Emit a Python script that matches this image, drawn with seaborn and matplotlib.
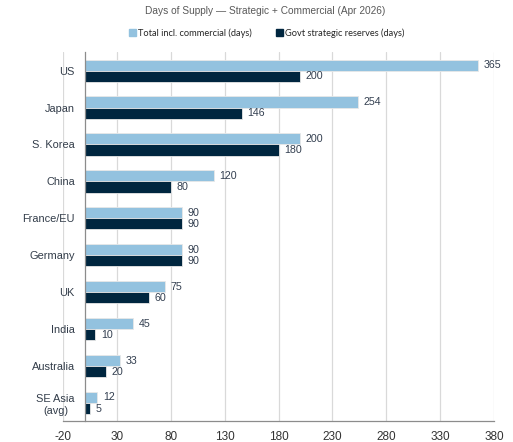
import matplotlib
matplotlib.use("Agg")
import matplotlib.pyplot as plt
import seaborn as sns
import pandas as pd
import numpy as np
from matplotlib.ticker import FixedLocator

countries = ["US", "Japan", "S. Korea", "China", "France/EU", "Germany", "UK", "India", "Australia", "SE Asia\n(avg)"]
total_days = [365, 254, 200, 120, 90, 90, 75, 45, 33, 12]
govt_days = [200, 146, 180, 80, 90, 90, 60, 10, 20, 5]
series_names = ["Total incl. commercial (days)", "Govt strategic reserves (days)"]
x_ticks = [-20, 30, 80, 130, 180, 230, 280, 330, 380]
title = "Days of Supply \u2014 Strategic + Commercial (Apr 2026)"

sns.set_style("white")
plt.rcParams["font.family"] = ["Liberation Sans", "DejaVu Sans"]

df = pd.DataFrame({
    "country": countries * 2,
    "value": total_days + govt_days,
    "series": [series_names[0]] * len(countries) + [series_names[1]] * len(countries),
})

fig = plt.figure(figsize=(5.13, 4.42), dpi=100)
ax = fig.add_axes([0.1228, 0.0464, 0.963 - 0.1228, 0.882 - 0.0464])

palette = {series_names[0]: "#93C2DF", series_names[1]: "#00263F"}
sns.barplot(data=df, y="country", x="value", hue="series", orient="h",
            palette=palette, width=0.6, ax=ax, edgecolor="#E8E8E8", linewidth=0.6,
            saturation=1, legend=True)

ax.set_xlim(-20, 380)
ax.set_ylim(len(countries) - 0.5, -0.5)
ax.set_xticks(x_ticks)
ax.set_xticklabels([str(t) for t in x_ticks], fontsize=8.5, color="#333333")
ax.set_xlabel("")
ax.set_ylabel("")

# grid
ax.grid(axis="x", color="#D9D9D9", linewidth=0.9)
ax.set_axisbelow(True)

for s in ["top", "right"]:
    ax.spines[s].set_visible(False)
ax.spines["left"].set_position(("data", 0))
ax.spines["left"].set_color("#8C8C8C")
ax.spines["left"].set_linewidth(0.9)
ax.spines["bottom"].set_color("#8C8C8C")
ax.spines["bottom"].set_linewidth(0.9)

ax.tick_params(axis="x", which="major", length=4, color="#8C8C8C", width=0.9, pad=3)
ax.tick_params(axis="y", which="major", length=0, pad=7, labelsize=7.9, labelcolor="#333D4A")
ax.yaxis.set_minor_locator(FixedLocator(np.arange(-0.5, len(countries), 1.0)))
ax.tick_params(axis="y", which="minor", length=4, color="#8C8C8C", width=0.9, direction="out")
for lbl in ax.get_yticklabels():
    lbl.set_multialignment("center")

# value labels
for cont in ax.containers:
    ax.bar_label(cont, padding=4, fontsize=7.7, color="#333F50")

# legend
leg = ax.get_legend()
if leg is not None:
    leg.remove()
handles = [plt.Rectangle((0, 0), 1, 1, color=palette[n]) for n in series_names]
fig.legend(handles, series_names, loc="center", bbox_to_anchor=(0.52, 0.925), ncol=2,
           frameon=False, handlelength=0.75, handleheight=0.75,
           handletextpad=0.2, columnspacing=2.6,
           prop={"family": ["Lato", "DejaVu Sans"], "size": 6.7})

fig.text(0.517, 0.975, title, ha="center", va="center", fontsize=7.3, color="#595959")

fig.savefig("out.png", dpi=100)
